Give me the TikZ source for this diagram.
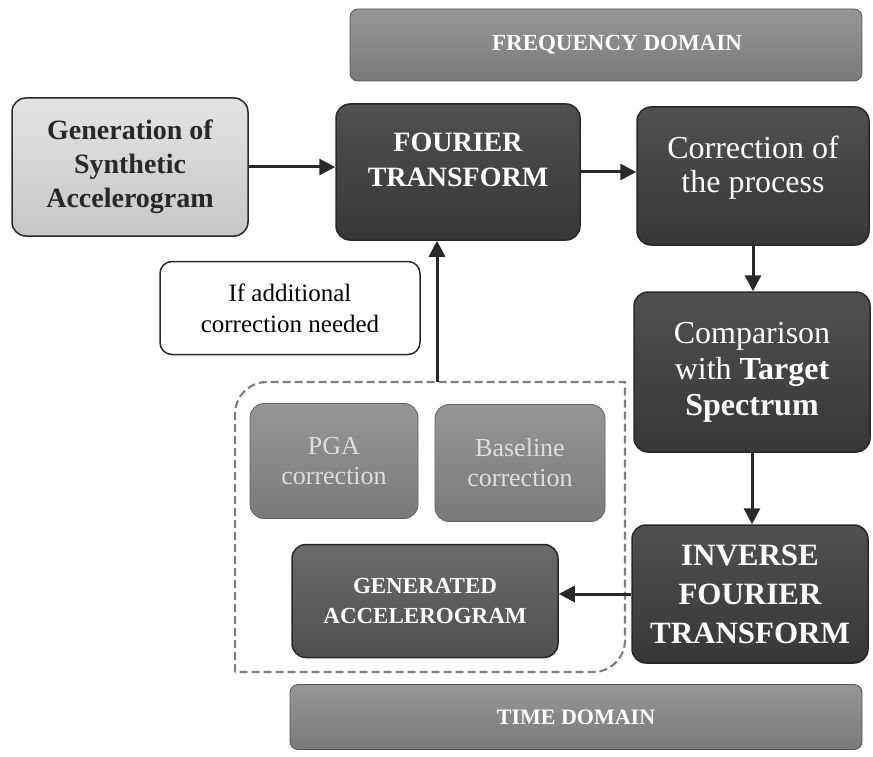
\documentclass[tikz,border=0pt]{standalone}
\usepackage{fontspec}
\setmainfont{Liberation Serif}
\usepackage{tikz}
\usetikzlibrary{arrows.meta, positioning}
\definecolor{boxdark}{RGB}{80,80,80}
\definecolor{boxdarkb}{RGB}{55,55,55}
\definecolor{boxmid}{RGB}{150,150,150}
\definecolor{boxmidb}{RGB}{122,122,122}
\definecolor{boxlight}{RGB}{228,228,228}
\definecolor{boxlightb}{RGB}{198,198,198}
\definecolor{edgegray}{RGB}{40,40,40}
\definecolor{paletext}{RGB}{222,222,222}

\begin{document}
\begin{tikzpicture}[x=1pt, y=-1pt,
    b/.style={draw=edgegray, line width=1.5pt, rounded corners=14pt, align=center, inner sep=2pt},
    dk/.style={b, top color=boxdark, bottom color=boxdarkb, text=white},
    lt/.style={b, top color=boxlight, bottom color=boxlightb, text=edgegray},
    md/.style={draw=boxmidb!80!black, line width=0.8pt, rounded corners=14pt, align=center,
      top color=boxmid, bottom color=boxmidb, text=paletext},
    bar/.style={draw=boxmidb!70!black, line width=0.8pt, rounded corners=8pt,
      top color=boxmid, bottom color=boxmidb, text=white},
    arr/.style={-{Triangle[length=16pt, width=16pt]}, line width=3pt, edgegray}]
    \useasboundingbox (0,0) rectangle (873,757);

    % domain bars
    \node[bar, minimum width=512pt, minimum height=72pt] (freq) at (606,45) {};
    \node[text=white, font=\fontsize{23}{26}\selectfont\bfseries] (freqtxt) at (617,45) {FREQUENCY DOMAIN};
    \node[bar, minimum width=572pt, minimum height=65pt, font=\fontsize{22}{26}\selectfont\bfseries]
      (time) at (576,717) {TIME DOMAIN};

    % main chain
    \node[lt, minimum width=236pt, minimum height=138pt, font=\fontsize{28}{34}\selectfont\bfseries]
      (gen) at (130,167) {Generation of\\Synthetic\\Accelerogram};
    \node[dk, minimum width=244pt, minimum height=136pt, text depth=24pt,
      font=\fontsize{28}{35}\selectfont\bfseries]
      (ft) at (458,172) {FOURIER\\TRANSFORM};
    \node[dk, minimum width=232pt, minimum height=138pt, text depth=24pt,
      font=\fontsize{32}{34}\selectfont]
      (corr) at (753,176) {Correction of\\the process};
    \node[dk, minimum width=236pt, minimum height=160pt, font=\fontsize{32}{36}\selectfont]
      (comp) at (752,372) {Comparison\\with \textbf{Target}\\\textbf{Spectrum}};
    \node[dk, minimum width=236pt, minimum height=138pt, font=\fontsize{31}{39}\selectfont\bfseries]
      (ift) at (750,594) {INVERSE\\FOURIER\\TRANSFORM};

    % correction group
    \node[md, minimum width=168pt, minimum height=115pt, font=\fontsize{26}{30}\selectfont]
      (pga) at (334,461) {PGA\\correction};
    \node[md, minimum width=170pt, minimum height=117pt, font=\fontsize{26}{30}\selectfont]
      (base) at (520,463) {Baseline\\correction};
    \node[b, top color=boxdark!85!white, bottom color=boxdark, text=white,
      minimum width=266pt, minimum height=113pt, font=\fontsize{23}{30}\selectfont\bfseries]
      (gacc) at (425,601) {GENERATED\\ACCELEROGRAM};
    \draw[gray, line width=2.2pt, dash pattern=on 8pt off 4pt]
      (235,672) -- (235,414) to[out=90, in=180] (267,382) -- (625,382)
      -- (625,640) to[out=-90, in=0] (593,672) -- cycle;
    \coordinate (looptop) at (437,382);

    \node[b, fill=white, minimum width=260pt, minimum height=93pt, rounded corners=12pt,
      font=\fontsize{25}{31}\selectfont] (ifbox) at (290,308) {If additional\\correction needed};

    % connectors
    \draw[arr] (gen.east) -- (gen.east -| ft.west);
    \draw[arr] (ft.east) -- (ft.east -| corr.west);
    \draw[arr] (corr.south) -- (corr.south |- comp.north);
    \draw[arr] (comp.south) -- (comp.south |- ift.north);
    \draw[arr] (ift.west) -- (ift.west -| gacc.east);
    \draw[arr] (looptop) -- (looptop |- ft.south);
  \end{tikzpicture}
\end{document}
